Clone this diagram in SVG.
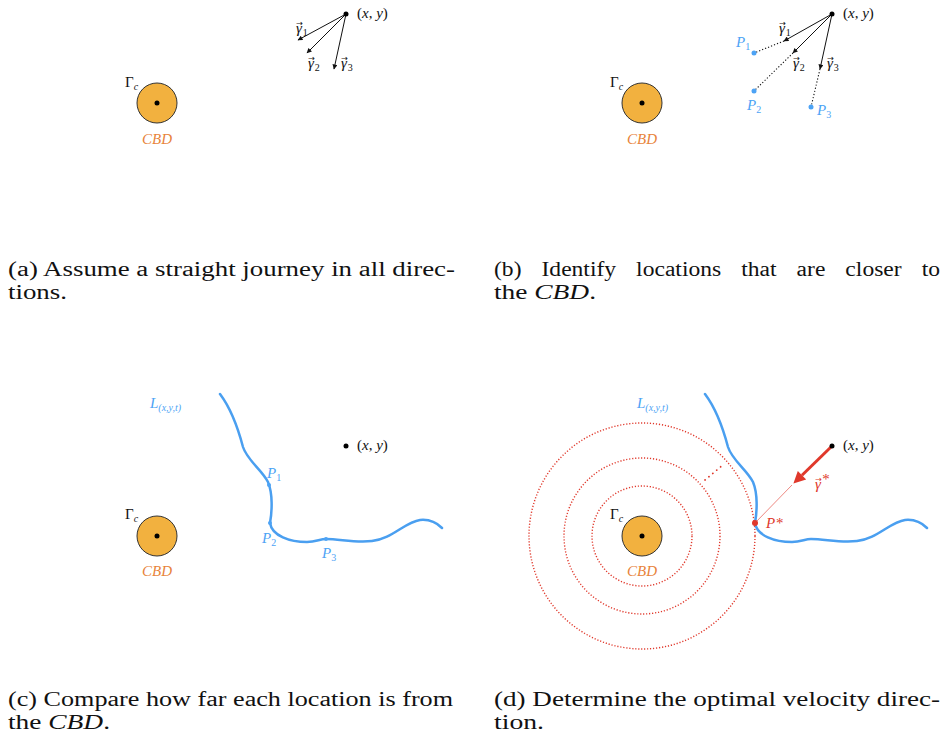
<svg xmlns="http://www.w3.org/2000/svg" width="944" height="744" viewBox="0 0 944 744">
<style>
.lbl{font-family:'Liberation Serif',serif;font-size:15px;fill:#111}
.it{font-style:italic}
.sub{font-size:10px;font-style:normal}
.subi{font-size:10px;font-style:italic}
.acc{font-family:'DejaVu Sans',sans-serif;font-size:8px;font-style:normal}
.cbdtxt{font-family:'Liberation Serif',serif;font-style:italic;font-size:15px;fill:#E8833A;text-anchor:middle}
.blue{fill:#4DA3F5}
.red{fill:#E0382B}
.cap{font-family:'Liberation Serif',serif;font-size:20px;fill:#111}
.cbd{fill:#F2B13F;stroke:#333;stroke-width:1}
.dot{fill:#000}
.arr{stroke:#111;stroke-width:1;fill:none;marker-end:url(#ah)}
.dotl{stroke:#111;stroke-width:1.1;stroke-dasharray:1.2 2;fill:none}
.ring{fill:none;stroke:#E0382B;stroke-width:1.4;stroke-dasharray:1.2 1.8}
.road{fill:none;stroke:#4A9FF0;stroke-width:2.5;stroke-linecap:round}
</style>
<defs>
<marker id="ah" viewBox="0 0 10 10" refX="9" refY="5" markerUnits="userSpaceOnUse" markerWidth="7" markerHeight="5" orient="auto"><path d="M0,0 L10,5 L0,10 z" fill="#111"/></marker>
<marker id="rh" viewBox="0 0 10 10" refX="0" refY="5" markerUnits="userSpaceOnUse" markerWidth="14" markerHeight="12" orient="auto"><path d="M0,0 L10,5 L0,10 z" fill="#E0382B"/></marker>
<path id="roadpath" d="M220,394 C232,410 238,428 243,447 C247,460 262,470 268,482 C273,494 272,512 270,523 C272,536 290,542 307,542 C316,542 320,539 326,539 C340,539 355,543 372,541 C392,539 405,522 420,520 C430,519 437,523 442,528"/>
</defs>
<rect width="944" height="744" fill="#fff"/>

<!-- Panel (a) -->
<g id="panel-a">
  <g id="a-connectors">
    <line class="arr" x1="346" y1="14" x2="298" y2="40"/>
    <line class="arr" x1="346" y1="14" x2="307" y2="53"/>
    <line class="arr" x1="346" y1="14" x2="334" y2="69"/>
  </g>
  <g id="a-cbd">
    <circle class="cbd" cx="157" cy="103" r="20"/>
    <circle class="dot" cx="157" cy="103" r="2.5"/>
    <text class="lbl" x="125" y="87">Γ<tspan class="subi" dy="3">c</tspan></text>
    <text class="cbdtxt" x="157" y="144">CBD</text>
  </g>
  <g id="a-origin">
    <circle class="dot" cx="346" cy="14" r="2.5"/>
    <text class="lbl" x="357" y="18">(<tspan class="it">x</tspan>, <tspan class="it">y</tspan>)</text>
  </g>
  <g id="a-gamma1"><text class="lbl it" x="296" y="33">γ<tspan class="acc" dx="-5.6" dy="-7">→</tspan><tspan class="sub" dx="-0.3" dy="10">1</tspan></text></g>
  <g id="a-gamma2"><text class="lbl it" x="308" y="68">γ<tspan class="acc" dx="-5.6" dy="-7">→</tspan><tspan class="sub" dx="-0.3" dy="10">2</tspan></text></g>
  <g id="a-gamma3"><text class="lbl it" x="341" y="68">γ<tspan class="acc" dx="-5.6" dy="-7">→</tspan><tspan class="sub" dx="-0.3" dy="10">3</tspan></text></g>
</g>

<!-- Panel (b) -->
<g id="panel-b">
  <g id="b-connectors">
    <line class="arr" x1="832" y1="14" x2="784" y2="41"/>
    <line class="arr" x1="832" y1="14" x2="793" y2="53"/>
    <line class="arr" x1="832" y1="14" x2="820" y2="69"/>
    <line class="dotl" x1="784" y1="41" x2="754" y2="53"/>
    <line class="dotl" x1="793" y1="53" x2="754" y2="91"/>
    <line class="dotl" x1="820" y1="69" x2="811" y2="107"/>
  </g>
  <g id="b-cbd">
    <circle class="cbd" cx="642" cy="103" r="20"/>
    <circle class="dot" cx="642" cy="103" r="2.5"/>
    <text class="lbl" x="610" y="87">Γ<tspan class="subi" dy="3">c</tspan></text>
    <text class="cbdtxt" x="642" y="144">CBD</text>
  </g>
  <g id="b-origin">
    <circle class="dot" cx="832" cy="14" r="2.5"/>
    <text class="lbl" x="843" y="18">(<tspan class="it">x</tspan>, <tspan class="it">y</tspan>)</text>
  </g>
  <g id="b-gamma1"><text class="lbl it" x="779" y="33">γ<tspan class="acc" dx="-5.6" dy="-7">→</tspan><tspan class="sub" dx="-0.3" dy="10">1</tspan></text></g>
  <g id="b-gamma2"><text class="lbl it" x="793" y="68">γ<tspan class="acc" dx="-5.6" dy="-7">→</tspan><tspan class="sub" dx="-0.3" dy="10">2</tspan></text></g>
  <g id="b-gamma3"><text class="lbl it" x="827" y="68">γ<tspan class="acc" dx="-5.6" dy="-7">→</tspan><tspan class="sub" dx="-0.3" dy="10">3</tspan></text></g>
  <g id="b-P1"><circle class="blue" cx="754" cy="53" r="2.5"/><text class="lbl it blue" x="736" y="47">P<tspan class="sub" dy="3">1</tspan></text></g>
  <g id="b-P2"><circle class="blue" cx="754" cy="91" r="2.5"/><text class="lbl it blue" x="747" y="110">P<tspan class="sub" dy="3">2</tspan></text></g>
  <g id="b-P3"><circle class="blue" cx="811" cy="107" r="2.5"/><text class="lbl it blue" x="817" y="115">P<tspan class="sub" dy="3">3</tspan></text></g>
</g>

<!-- Panel (c) -->
<g id="panel-c">
  <g id="c-road">
    <use href="#roadpath" class="road"/>
    <text class="lbl it blue" x="150" y="408">L<tspan class="subi" dy="3">(x,y,t)</tspan></text>
  </g>
  <g id="c-cbd">
    <circle class="cbd" cx="157" cy="536" r="20"/>
    <circle class="dot" cx="157" cy="536" r="2.5"/>
    <text class="lbl" x="125" y="519">Γ<tspan class="subi" dy="3">c</tspan></text>
    <text class="cbdtxt" x="157" y="576">CBD</text>
  </g>
  <g id="c-origin">
    <circle class="dot" cx="346" cy="446" r="2.5"/>
    <text class="lbl" x="357" y="450">(<tspan class="it">x</tspan>, <tspan class="it">y</tspan>)</text>
  </g>
  <g id="c-P1"><circle class="blue" cx="269" cy="485" r="2"/><text class="lbl it blue" x="267" y="478">P<tspan class="sub" dy="3">1</tspan></text></g>
  <g id="c-P2"><circle class="blue" cx="270" cy="523" r="2"/><text class="lbl it blue" x="262" y="543">P<tspan class="sub" dy="3">2</tspan></text></g>
  <g id="c-P3"><circle class="blue" cx="326" cy="539" r="2"/><text class="lbl it blue" x="322" y="558">P<tspan class="sub" dy="3">3</tspan></text></g>
</g>

<!-- Panel (d) -->
<g id="panel-d">
  <g id="d-rings">
    <circle class="ring" cx="642" cy="536" r="50"/>
    <circle class="ring" cx="642" cy="536" r="78"/>
    <circle class="ring" cx="642" cy="536" r="113"/>
    <line x1="705" y1="480" x2="724" y2="464" stroke="#E0382B" stroke-width="1.8" stroke-linecap="round" stroke-dasharray="0.1 5"/>
  </g>
  <g id="d-road">
    <use href="#roadpath" class="road" transform="translate(485,0)"/>
    <text class="lbl it blue" x="637" y="408">L<tspan class="subi" dy="3">(x,y,t)</tspan></text>
  </g>
  <g id="d-cbd">
    <circle class="cbd" cx="642" cy="536" r="20"/>
    <circle class="dot" cx="642" cy="536" r="2.5"/>
    <text class="lbl" x="610" y="519">Γ<tspan class="subi" dy="3">c</tspan></text>
    <text class="cbdtxt" x="642" y="576">CBD</text>
  </g>
  <g id="d-connectors">
    <line x1="792" y1="485" x2="755" y2="523" stroke="#E0382B" stroke-width="0.6"/>
    <line x1="832" y1="446" x2="802" y2="475.2" stroke="#E0382B" stroke-width="3" marker-end="url(#rh)"/>
  </g>
  <g id="d-origin">
    <circle class="dot" cx="832" cy="446" r="2.5"/>
    <text class="lbl" x="843" y="450">(<tspan class="it">x</tspan>, <tspan class="it">y</tspan>)</text>
  </g>
  <g id="d-gamma"><text class="lbl it red" x="815" y="489">γ<tspan class="acc" dx="-5.6" dy="-7">→</tspan><tspan dx="-0.5" dy="2">*</tspan></text></g>
  <g id="d-Pstar"><circle class="red" cx="755" cy="523" r="3"/><text class="lbl it red" x="766" y="528">P*</text></g>
</g>

<!-- Captions -->
<g id="captions">
  <text class="cap" x="8" y="276" textLength="447" lengthAdjust="spacingAndGlyphs">(a) Assume a straight journey in all direc-</text>
  <text class="cap" x="8" y="299" textLength="59" lengthAdjust="spacingAndGlyphs">tions.</text>
  <text class="cap" x="494" y="276" word-spacing="12" textLength="446" lengthAdjust="spacingAndGlyphs">(b) Identify locations that are closer to</text>
  <text class="cap" x="494" y="299" textLength="102" lengthAdjust="spacingAndGlyphs">the <tspan font-style="italic">CBD</tspan>.</text>
  <text class="cap" x="8" y="706" textLength="445" lengthAdjust="spacingAndGlyphs">(c) Compare how far each location is from</text>
  <text class="cap" x="8" y="729" textLength="102" lengthAdjust="spacingAndGlyphs">the <tspan font-style="italic">CBD</tspan>.</text>
  <text class="cap" x="494" y="706" textLength="446" lengthAdjust="spacingAndGlyphs">(d) Determine the optimal velocity direc-</text>
  <text class="cap" x="494" y="729" textLength="50" lengthAdjust="spacingAndGlyphs">tion.</text>
</g>
</svg>
